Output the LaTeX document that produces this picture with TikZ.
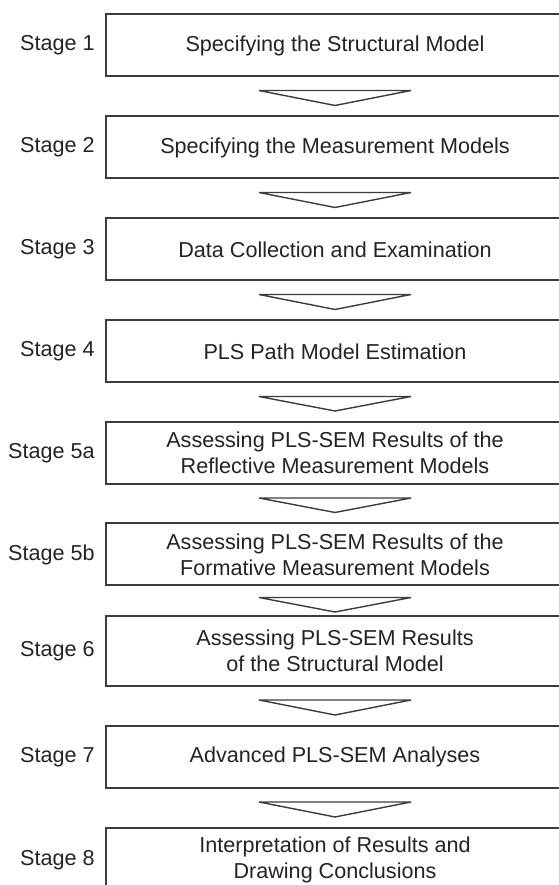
\documentclass[tikz,border=0pt]{standalone}
\usepackage{fontspec}
\setmainfont{Liberation Sans}
\usetikzlibrary{positioning,calc}
\definecolor{stage_line}{RGB}{60, 60, 60}
\definecolor{stage_text}{RGB}{35, 35, 35}
\tikzstyle{box}=[rectangle,draw=stage_line,line width=1pt,text=stage_text,
  align=center,minimum width=229pt,minimum height=31pt,inner sep=2pt,
  font=\fontsize{10.8}{13}\selectfont]
\tikzstyle{lbl}=[text=stage_text,inner sep=0pt,
  font=\fontsize{10.8}{13}\selectfont]
\tikzstyle{tri}=[draw=stage_line,line width=0.7pt,line join=miter]

\begin{document}
\begin{tikzpicture}[x=0.5pt,y=0.5pt]
    \useasboundingbox (0,0) rectangle (558,885);
    \node [style=box] (b1) at (335,839.5) {Specifying the Structural Model};
    \node [style=box] (b2) at (335,737.5) {Specifying the Measurement Models};
    \node [style=box] (b3) at (335,635.5) {Data Collection and Examination};
    \node [style=box] (b4) at (335,533.5) {PLS Path Model Estimation};
    \node [style=box] (b5a) at (335,432) {Assessing PLS-SEM Results of the\\Reflective Measurement Models};
    \node [style=box] (b5b) at (335,330.5) {Assessing PLS-SEM Results of the\\Formative Measurement Models};
    \node [style=box,minimum height=35pt] (b6) at (335,234) {Assessing PLS-SEM Results\\of the Structural Model};
    \node [style=box] (b7) at (335,128) {Advanced PLS-SEM Analyses};
    \node [style=box,minimum height=32pt] (b8) at (335,25) {Interpretation of Results and\\Drawing Conclusions};
    \node [style=lbl,left=5pt of b1] (l1) {Stage 1};
    \node [style=lbl,left=5pt of b2] (l2) {Stage 2};
    \node [style=lbl,left=5pt of b3] (l3) {Stage 3};
    \node [style=lbl,left=5pt of b4] (l4) {Stage 4};
    \node [style=lbl,left=5pt of b5a] (l5a) {Stage 5a};
    \node [style=lbl,left=5pt of b5b] (l5b) {Stage 5b};
    \node [style=lbl,left=5pt of b6] (l6) {Stage 6};
    \node [style=lbl,left=5pt of b7] (l7) {Stage 7};
    \node [style=lbl,left=5pt of b8] (l8) {Stage 8};
    \draw [style=tri] ($(b1.south)+(-76,-13)$) -- ($(b1.south)+(76,-13)$) -- ($(b2.north)+(0,10)$) -- cycle;
    \draw [style=tri] ($(b2.south)+(-76,-13)$) -- ($(b2.south)+(76,-13)$) -- ($(b3.north)+(0,10)$) -- cycle;
    \draw [style=tri] ($(b3.south)+(-76,-13)$) -- ($(b3.south)+(76,-13)$) -- ($(b4.north)+(0,10)$) -- cycle;
    \draw [style=tri] ($(b4.south)+(-76,-13)$) -- ($(b4.south)+(76,-13)$) -- ($(b5a.north)+(0,10)$) -- cycle;
    \draw [style=tri] ($(b5a.south)+(-76,-13)$) -- ($(b5a.south)+(76,-13)$) -- ($(b5b.north)+(0,10)$) -- cycle;
    \draw [style=tri] ($(b5b.south)+(-76,-11)$) -- ($(b5b.south)+(76,-11)$) -- ($(b6.north)+(0,3)$) -- cycle;
    \draw [style=tri] ($(b6.south)+(-76,-13)$) -- ($(b6.south)+(76,-13)$) -- ($(b7.north)+(0,10)$) -- cycle;
    \draw [style=tri] ($(b7.south)+(-76,-13)$) -- ($(b7.south)+(76,-13)$) -- ($(b8.north)+(0,10)$) -- cycle;
  \end{tikzpicture}
\end{document}
